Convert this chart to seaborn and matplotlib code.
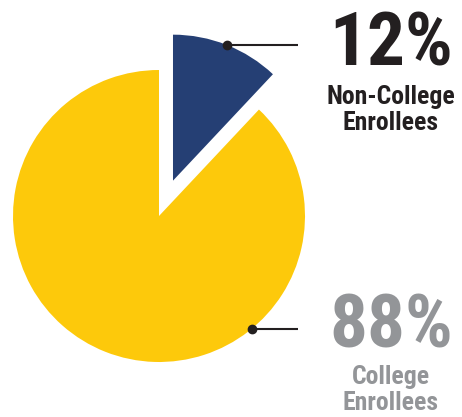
import math

import matplotlib.pyplot as plt
import seaborn as sns

# data
labels = ["Non-College\nEnrollees", "College\nEnrollees"]
shares = [12, 88]
colors = ["#253f74", "#fdc90b"]
text_colors = ["#231f20", "#939598"]

sns.set_theme(style="white")
plt.rcParams["font.family"] = ["Liberation Sans Narrow", "Roboto Condensed", "DejaVu Sans"]

W, H = 462, 417
fig = plt.figure(figsize=(W / 100, H / 100), dpi=100)
ax = fig.add_axes([0, 0, 1, 1])

center = (159, 201)
radius = 146
explode = [38, 0]

wedges, _ = ax.pie(shares, colors=colors, startangle=90, counterclock=False,
                   center=center, radius=radius, explode=explode,
                   wedgeprops={"linewidth": 0}, frame=True)
ax.set_xlim(0, W)
ax.set_ylim(0, H)
ax.set_aspect("equal")
ax.axis("off")

# marker angles on each wedge arc
dot_angles = [68.4, -50.5]
text_x = 391
line_end = 298

for i, w in enumerate(wedges):
    cx, cy = w.center
    a = math.radians(dot_angles[i])
    px, py = cx + w.r * math.cos(a), cy + w.r * math.sin(a)
    ax.plot([px, line_end], [py, py], color="#231f20", lw=1.5, solid_capstyle="butt")
    ax.plot(px, py, "o", color="#231f20", ms=6)

ax.text(text_x, H - 45, f"{shares[0]}%", ha="center", va="center",
        fontsize=54, fontweight="bold", color=text_colors[0])
ax.text(text_x, H - 110, labels[0], ha="center", va="center",
        fontsize=18.5, fontweight="bold", color=text_colors[0], linespacing=1.15)
ax.text(text_x, H - 328, f"{shares[1]}%", ha="center", va="center",
        fontsize=54, fontweight="bold", color=text_colors[1])
ax.text(text_x, H - 390, labels[1], ha="center", va="center",
        fontsize=18.5, fontweight="bold", color=text_colors[1], linespacing=1.15)

fig.savefig("out.png", dpi=100)
